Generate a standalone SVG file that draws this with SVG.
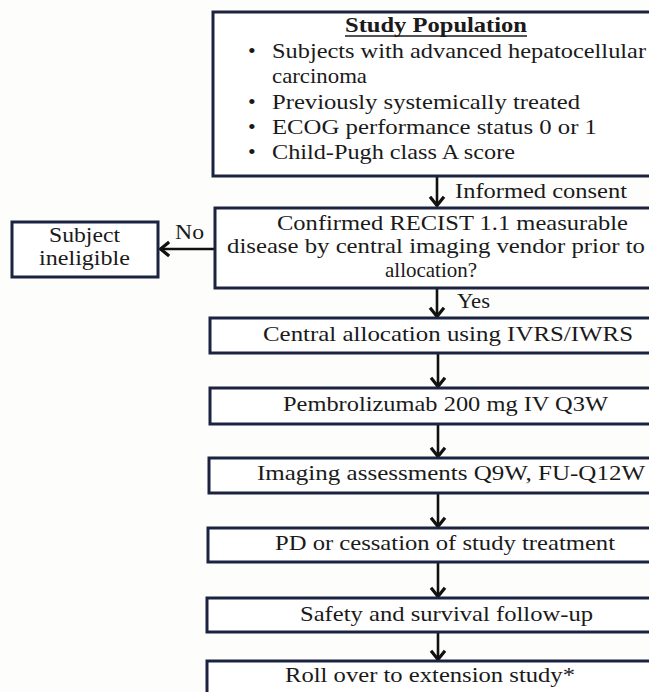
<svg xmlns="http://www.w3.org/2000/svg" width="649" height="692" viewBox="0 0 649 692">
<style>
.box{fill:#ffffff;stroke:#1c2340;stroke-width:3}
.t{font-family:"Liberation Serif","Times New Roman",Times,serif;font-size:22px;fill:#1a1a1a}
.b{font-weight:bold}
.c{stroke:#111;stroke-width:2.6;fill:none}
</style>
<defs>
<marker id="ah" markerUnits="userSpaceOnUse" markerWidth="14" markerHeight="20" refX="11" refY="8" orient="auto" viewBox="0 0 13 16">
<path d="M2.5,1.5 L10.5,8 L2.5,14.5" fill="none" stroke="#111" stroke-width="3" stroke-linejoin="miter"/>
</marker>
</defs>
<rect width="649" height="692" fill="#fdfdfb"/>

<g id="connectors">
<line class="c" x1="437" y1="177" x2="437" y2="206" marker-end="url(#ah)"/>
<line class="c" x1="214" y1="249" x2="160" y2="249" marker-end="url(#ah)"/>
<line class="c" x1="437" y1="289" x2="437" y2="317" marker-end="url(#ah)"/>
<line class="c" x1="438" y1="354" x2="438" y2="387" marker-end="url(#ah)"/>
<line class="c" x1="438" y1="425" x2="438" y2="457" marker-end="url(#ah)"/>
<line class="c" x1="438" y1="494" x2="438" y2="527" marker-end="url(#ah)"/>
<line class="c" x1="438" y1="563" x2="438" y2="597" marker-end="url(#ah)"/>
<line class="c" x1="438" y1="633" x2="438" y2="660" marker-end="url(#ah)"/>
<text class="t" x="455" y="198" textLength="172" lengthAdjust="spacingAndGlyphs">Informed consent</text>
<text class="t" x="175" y="239" textLength="29" lengthAdjust="spacingAndGlyphs">No</text>
<text class="t" x="457" y="308" textLength="33" lengthAdjust="spacingAndGlyphs">Yes</text>
</g>

<g id="study-population">
<rect class="box" x="213" y="12" width="470" height="164"/>
<text class="t b" x="345" y="32" textLength="182" lengthAdjust="spacingAndGlyphs">Study Population</text>
<line x1="345" y1="36" x2="527" y2="36" stroke="#1a1a1a" stroke-width="1.5"/>
<text class="t" x="248" y="58">•</text>
<text class="t" x="272" y="58" textLength="374" lengthAdjust="spacingAndGlyphs">Subjects with advanced hepatocellular</text>
<text class="t" x="272" y="83" textLength="95" lengthAdjust="spacingAndGlyphs">carcinoma</text>
<text class="t" x="248" y="109">•</text>
<text class="t" x="272" y="109" textLength="308" lengthAdjust="spacingAndGlyphs">Previously systemically treated</text>
<text class="t" x="248" y="134">•</text>
<text class="t" x="272" y="134" textLength="325" lengthAdjust="spacingAndGlyphs">ECOG performance status 0 or 1</text>
<text class="t" x="248" y="159">•</text>
<text class="t" x="272" y="159" textLength="243" lengthAdjust="spacingAndGlyphs">Child-Pugh class A score</text>
</g>

<g id="decision">
<rect class="box" x="215" y="208" width="470" height="80"/>
<text class="t" x="277" y="230" textLength="351" lengthAdjust="spacingAndGlyphs">Confirmed RECIST 1.1 measurable</text>
<text class="t" x="227" y="253" textLength="418" lengthAdjust="spacingAndGlyphs">disease by central imaging vendor prior to</text>
<text class="t" x="385" y="277" textLength="92" lengthAdjust="spacingAndGlyphs">allocation?</text>
</g>

<g id="ineligible">
<rect class="box" x="12" y="222" width="146" height="55"/>
<text class="t" x="49" y="242" textLength="71" lengthAdjust="spacingAndGlyphs">Subject</text>
<text class="t" x="39" y="265" textLength="91" lengthAdjust="spacingAndGlyphs">ineligible</text>
</g>

<g id="allocation">
<rect class="box" x="210" y="318" width="470" height="35"/>
<text class="t" x="263" y="341" textLength="370" lengthAdjust="spacingAndGlyphs">Central allocation using IVRS/IWRS</text>
</g>

<g id="pembrolizumab">
<rect class="box" x="210" y="388" width="470" height="36"/>
<text class="t" x="283" y="411" textLength="325" lengthAdjust="spacingAndGlyphs">Pembrolizumab 200 mg IV Q3W</text>
</g>

<g id="imaging">
<rect class="box" x="209" y="458" width="470" height="35"/>
<text class="t" x="257" y="480" textLength="388" lengthAdjust="spacingAndGlyphs">Imaging assessments Q9W, FU-Q12W</text>
</g>

<g id="pd">
<rect class="box" x="208" y="528" width="470" height="34"/>
<text class="t" x="275" y="550" textLength="340" lengthAdjust="spacingAndGlyphs">PD or cessation of study treatment</text>
</g>

<g id="safety">
<rect class="box" x="207" y="598" width="470" height="34"/>
<text class="t" x="300" y="621" textLength="293" lengthAdjust="spacingAndGlyphs">Safety and survival follow-up</text>
</g>

<g id="rollover">
<rect class="box" x="207" y="661" width="470" height="60"/>
<text class="t" x="285" y="682" textLength="290" lengthAdjust="spacingAndGlyphs">Roll over to extension study*</text>
</g>
</svg>
